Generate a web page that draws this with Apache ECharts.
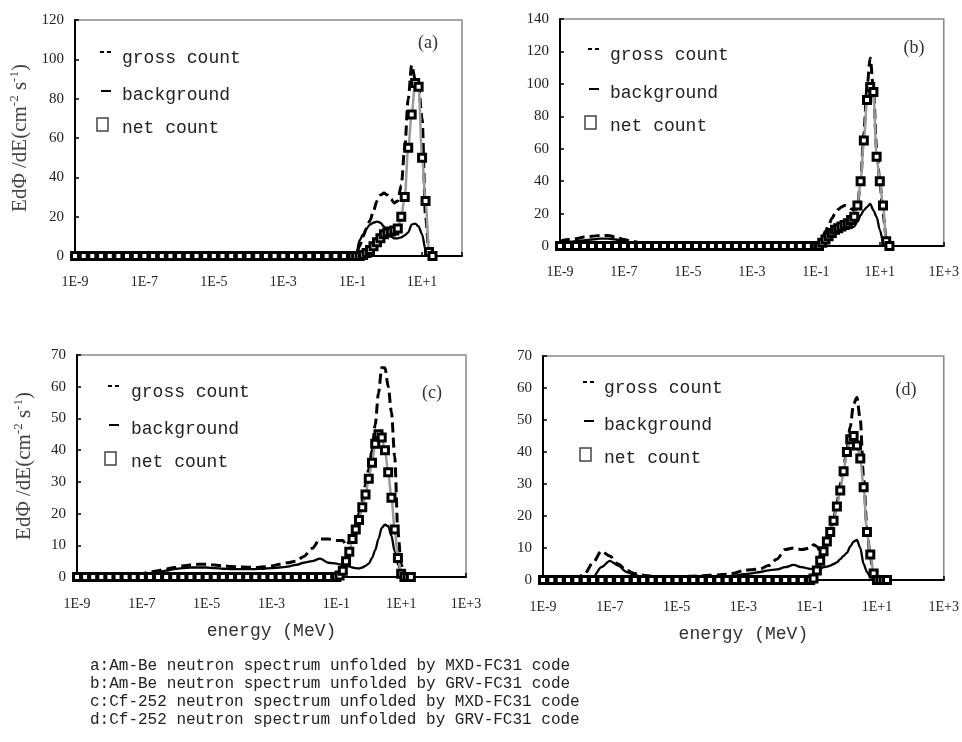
<!DOCTYPE html>
<html><head><meta charset="utf-8">
<script src="https://cdn.jsdelivr.net/npm/echarts@6/dist/echarts.min.js"></script>
<style>html,body{margin:0;padding:0;background:#fff}#c{width:962px;height:742px}</style>
</head><body><div id="c"></div>
<script>
// log10(E / MeV) sample grid shared by all panels
const logE = [-9,-8.75,-8.5,-8.25,-8,-7.75,-7.5,-7.25,-7,-6.75,-6.5,-6.25,-6,-5.75,-5.5,-5.25,-5,-4.75,-4.5,-4.25,-4,-3.75,-3.5,-3.25,-3,-2.75,-2.5,-2.25,-2,-1.75,-1.5,-1.25,-1,
  -0.9,-0.8,-0.7,-0.6,-0.5,-0.4,-0.3,-0.2,-0.1,0,0.1,0.2,0.3,0.4,0.5,0.6,0.7,0.8,0.9,1.0,1.1,1.2,1.3];

// (a) Am-Be, MXD-FC31
const aGross = [0.8,0.8,0.8,0.8,0.8,0.8,0.9,1.3,1.8,1.3,0.9,0.8,0.8,0.8,0.8,0.8,0.8,0.8,0.8,0.8,0.8,0.8,0.8,0.8,0.8,0.8,0.8,0.8,0.8,0.9,1.2,1.6,1.5,
  1,5,10,14,18,23,28,31,32,31,29,27,28,36,55,80,97,90,86,70,20,2,0.5];
const aBack = [0.6,0.6,0.6,0.6,0.6,0.6,0.7,1.0,1.3,1.0,0.7,0.6,0.6,0.6,0.6,0.6,0.6,0.6,0.6,0.6,0.6,0.6,0.6,0.6,0.6,0.6,0.6,0.6,0.6,0.7,0.8,1.2,1.3,
  0.5,8,11,14,16,17,17.5,17,15,12,10,9,9,9.5,10.5,12,16,16.5,15,11,3,0.5,0.3];
const aNet = [0,0,0,0,0,0,0,0,0,0,0,0,0,0,0,0,0,0,0,0,0,0,0,0,0,0,0,0,0,0,0,0,0,
  0,0,0.5,1.5,3,5,7,9,11,12,12.5,13,14,20,30,55,72,88,86,50,28,2,0];

// (b) Am-Be, GRV-FC31
const bGross = [3,4,4.5,5.5,6,6.5,6.5,5.5,4,3,2,1.5,1.2,1,1,1,1,1,1,1,1,1,1,1,1,1,1,1,1,1,1,1,1,
  0.8,5,9,13,17,20,22.5,24,25,24.5,23,22,25,40,70,98,116,97,60,40,20,5,1];
const bBack = [2,2.5,3,3.5,4,4.5,4.5,4,3,2,1.5,1,0.8,0.7,0.7,0.7,0.7,0.7,0.7,0.7,0.7,0.7,0.7,0.7,0.7,0.7,0.7,0.7,0.7,0.7,0.7,0.7,0.7,
  1,3,5,7,9,10,11,11,11,11,11,12,15,19,22,24,26,22,18,10,3,0.5,0];
const bNet = [0,0,0,0,0,0,0,0,0,0,0,0,0,0,0,0,0,0,0,0,0,0,0,0,0,0,0,0,0,0,0,0,0,
  0,2,4,6,8,10,11,12,13,14,16,18,25,40,65,90,98,95,55,40,25,3,0];

// (c) Cf-252, MXD-FC31
const cGross = [0.5,0.5,0.5,0.5,0.5,0.5,0.5,0.8,1,1.5,2,2.5,3,3.5,3.8,4,4,3.8,3.5,3.3,3.2,3.1,3,3.2,3.5,4,4.5,5,6.5,9,12,12,11.5,
  11.5,11.5,10,11,13,16,20,24,29,34,40,48,58,66,66,60,52,38,14,4,0.5,0,0];
const cBack = [0.3,0.3,0.3,0.3,0.3,0.3,0.3,0.5,0.8,1.2,1.5,2,2.5,2.8,3,3,3,2.8,2.6,2.5,2.5,2.5,2.5,2.6,2.8,3,3.3,3.8,4.5,5,5.8,4.5,4.2,
  4,3.8,3.6,3.3,3,2.8,2.7,3,3.5,4.2,6,8.5,12,15.5,16.5,16,13,8,4,1.5,0.3,0,0];
const cNet = [0,0,0,0,0,0,0,0,0,0,0,0,0,0,0,0,0,0,0,0,0,0,0,0,0,0,0,0,0,0,0,0,0,
  0.5,2,5,8,12,15,18,22,26,31,36,42,45,44,40,33,25,15,6,1,0,0,0];

// (d) Cf-252, GRV-FC31
const dGross = [0.3,0.3,0.3,0.3,0.5,2,5.5,9,7.5,5,3,2,1.5,1.2,1,1,1,1.1,1.2,1.3,1.5,1.6,1.8,2.2,3,3.2,3.5,4.5,6.5,9.5,10,9.5,10,
  11,10.5,9,10,12,15,19,24,30,35,41,48,55,57,50,32,16,7,2,0.3,0,0,0];
const dBack = [0.3,0.3,0.3,0.3,0.3,0.3,1,4,6,4.5,2.5,1.5,1,1,1,1,1,1,1,1,1,1.1,1.2,1.4,1.8,2.1,2.5,3,3.3,4,4.7,4,3.5,
  3.5,3.3,3.5,4,4.2,4.5,5,5.5,6.5,7.5,8.5,10.5,12,12.5,10,5,2.5,1,0.3,0,0,0,0];
const dNet = [0,0,0,0,0,0,0,0,0,0,0,0,0,0,0,0,0,0,0,0,0,0,0,0,0,0,0,0,0,0,0,0,0,
  0.5,3,6,9,12,15,18.5,23,28,34,40,44,45,42,38,29,15,8,2,0,0,0,0];

const seriesNames = ['gross count', 'background', 'net count'];
const panelTags = ['(a)', '(b)', '(c)', '(d)'];
const yMax = [120, 140, 70, 70];
const yStep = [20, 20, 10, 10];
const xMax = [2.15, 3, 3, 3];
const captionLines = [
  'a:Am-Be neutron spectrum unfolded by MXD-FC31 code',
  'b:Am-Be neutron spectrum unfolded by GRV-FC31 code',
  'c:Cf-252 neutron spectrum unfolded by MXD-FC31 code',
  'd:Cf-252 neutron spectrum unfolded by GRV-FC31 code'
];
const yTitle = 'EdΦ /dE(cm{sup|-2} s{sup|-1})';
const xTitle = 'energy (MeV)';

const panels = [[aGross,aBack,aNet],[bGross,bBack,bNet],[cGross,cBack,cNet],[dGross,dBack,dNet]];

const grids = [
  {left:75, top:20, width:387, height:236},
  {left:560, top:19, width:384, height:227},
  {left:77, top:355, width:389, height:222},
  {left:543, top:356, width:401, height:224}
];
const legendPos = [
  {x:122, y:[58,95,128], ix:100},
  {x:610, y:[55,93,126], ix:588},
  {x:131, y:[392,429,462], ix:108},
  {x:604, y:[388,425,458], ix:583}
];
const tagPos = [[428,43],[914,48],[432,393],[906,390]];

const serif = 'Liberation Serif, DejaVu Serif, serif';
const mono = 'Liberation Mono, DejaVu Sans Mono, monospace';

const option = {
  backgroundColor:'#fff',
  animation:false,
  grid: grids.map(g => Object.assign({show:true, borderColor:'#888', borderWidth:1.5, backgroundColor:'transparent'}, g)),
  xAxis: grids.map((g,i) => ({
    type:'value', gridIndex:i, min:-9, max:xMax[i], interval:2,
    name: i >= 2 ? xTitle : '', nameLocation:'middle', nameGap:45,
    nameTextStyle:{fontFamily:mono, fontSize:18, color:'#333'},
    axisLine:{show:true, onZero:false, lineStyle:{color:'#000', width:2}},
    axisTick:{show:true, inside:true, length:4, lineStyle:{color:'#000', width:1.5}},
    splitLine:{show:false},
    axisLabel:{margin:i<2?19:20, fontFamily:serif, fontSize:14, color:'#222',
      formatter: v => (Math.abs(v - Math.round(v)) < 1e-6 && v <= 3) ? ('1E' + (v >= 0 ? '+' : '') + Math.round(v)) : ''}
  })),
  yAxis: grids.map((g,i) => ({
    type:'value', gridIndex:i, min:0, max:yMax[i], interval:yStep[i],
    name: (i === 0 || i === 2) ? yTitle : '', nameLocation:'middle', nameRotate:90,
    nameGap: i === 0 ? 42 : 40,
    nameTextStyle:{fontFamily:serif, fontSize:21, color:'#444',
      rich:{sup:{fontFamily:serif, fontSize:13, color:'#444', padding:[0,0,12,0]}}},
    axisLine:{show:true, onZero:false, lineStyle:{color:'#000', width:2}},
    axisTick:{show:true, inside:true, length:4, lineStyle:{color:'#000', width:1.5}},
    splitLine:{show:false},
    axisLabel:{margin:11, fontFamily:serif, fontSize:15, color:'#222'}
  })),
  series: [],
  graphic: []
};

panels.forEach((p, i) => {
  const toPts = arr => logE.map((x, k) => [x, arr[k]]);
  option.series.push({
    name: seriesNames[1], type:'line', xAxisIndex:i, yAxisIndex:i, data: toPts(p[1]),
    smooth:0.3, smoothMonotone:'x', showSymbol:false, symbol:'none',
    lineStyle:{color:'#000', width:2.3}, z:3
  });
  option.series.push({
    name: seriesNames[2], type:'line', xAxisIndex:i, yAxisIndex:i, data: toPts(p[2]),
    smooth:0.3, smoothMonotone:'x', symbol:'rect', symbolSize:7, showSymbol:true,
    lineStyle:{color:'#9a9a9a', width:2.5},
    itemStyle:{color:'#fff', borderColor:'#000', borderWidth:3}, z:5
  });
  option.series.push({
    name: seriesNames[0], type:'line', xAxisIndex:i, yAxisIndex:i, data: toPts(p[0]),
    smooth:0.3, smoothMonotone:'x', showSymbol:false, symbol:'none',
    lineStyle:{color:'#000', width:3, type:[10,5]}, z:4
  });

  const L = legendPos[i];
  // legend icons
  option.graphic.push({type:'line', shape:{x1:L.ix, y1:L.y[0]-6, x2:L.ix+4, y2:L.y[0]-6}, style:{stroke:'#000', lineWidth:2}});
  option.graphic.push({type:'line', shape:{x1:L.ix+7, y1:L.y[0]-6, x2:L.ix+11, y2:L.y[0]-6}, style:{stroke:'#000', lineWidth:2}});
  option.graphic.push({type:'line', shape:{x1:L.ix+1, y1:L.y[1]-4, x2:L.ix+11, y2:L.y[1]-4}, style:{stroke:'#000', lineWidth:2}});
  option.graphic.push({type:'rect', shape:{x:L.ix-3, y:L.y[2]-10, width:11, height:13}, style:{fill:'#fff', stroke:'#444', lineWidth:1.5}});
  seriesNames.forEach((n, k) => {
    option.graphic.push({type:'text', x:L.x, y:L.y[k], style:{text:n, fontFamily:mono, fontSize:18, fill:'#222', textVerticalAlign:'middle', textAlign:'left'}});
  });
  option.graphic.push({type:'text', x:tagPos[i][0], y:tagPos[i][1], style:{text:panelTags[i], fontFamily:serif, fontSize:18, fill:'#333', textAlign:'center', textVerticalAlign:'middle'}});
});

captionLines.forEach((t, k) => {
  option.graphic.push({type:'text', x:90, y:666 + k*18, style:{text:t, fontFamily:mono, fontSize:16, fill:'#222', textVerticalAlign:'middle', textAlign:'left'}});
});

const chart = echarts.init(document.getElementById('c'), null, {renderer:'canvas'});
chart.setOption(option);
</script></body></html>
